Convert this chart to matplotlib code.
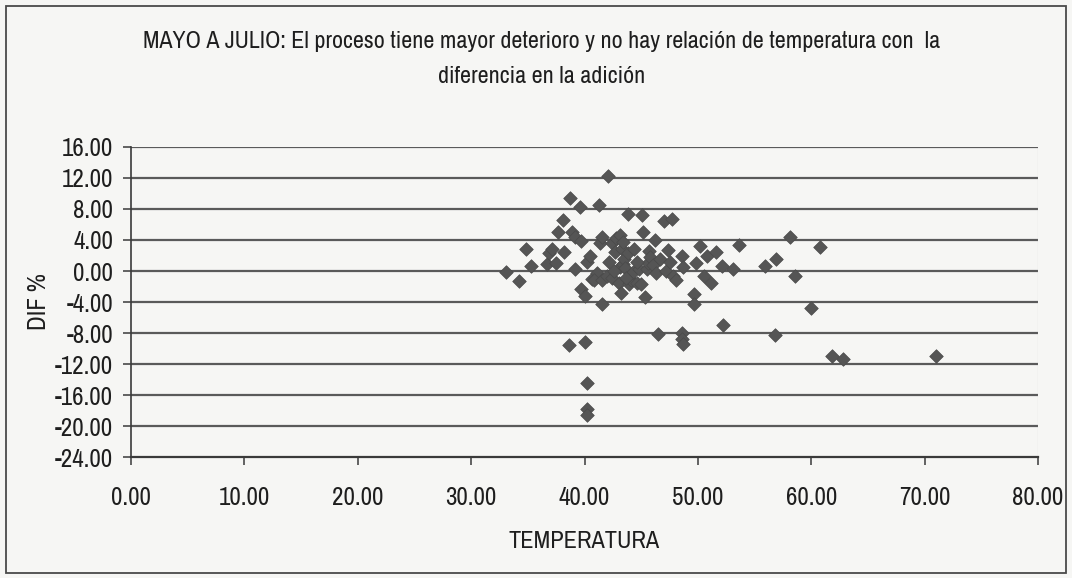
import matplotlib
matplotlib.use('Agg')
import matplotlib.pyplot as plt
from matplotlib.patches import Rectangle

# ── Datos (TEMPERATURA, DIF %) ───────────────────────────────────────────────
temperatura = [
    33.1, 34.2, 34.8, 35.3, 36.7, 36.9, 37.1, 37.5, 37.7, 38.1,
    38.2, 38.7, 38.9, 39.2, 39.2, 39.6, 39.7, 39.7, 40.0, 40.2,
    40.5, 40.7, 41.1, 41.3, 41.4, 41.5, 41.5, 40.8, 41.5, 42.0,
    42.1, 42.2, 42.4, 42.4, 42.7, 42.8, 43.0, 43.1, 43.1, 43.2,
    43.3, 43.4, 43.4, 43.5, 43.6, 43.8, 43.8, 43.9, 44.1, 44.3,
    44.6, 44.8, 45.0, 45.1, 45.2, 45.3, 45.5, 45.6, 45.7, 45.8,
    46.0, 46.2, 46.3, 46.5, 46.7, 47.0, 47.2, 47.4, 47.5, 47.7,
    47.8, 48.1, 48.6, 48.7, 48.6, 48.6, 48.7, 49.7, 49.7, 49.8,
    50.2, 50.5, 50.8, 51.2, 51.6, 52.1, 52.2, 53.1, 53.6, 55.9,
    56.9, 56.8, 58.1, 58.6, 60.0, 60.8, 61.8, 62.8, 71.0, 38.6,
    40.0, 40.2, 40.2, 40.2, 44.6, 44.4, 43.7, 42.6,
]
dif = [
    -0.1, -1.3, 2.9, 0.7, 0.9, 2.3, 2.9, 1.0, 5.0, 6.6,
    2.5, 9.4, 5.0, 4.4, 0.2, 8.3, 3.9, -2.3, -3.2, 1.2,
    1.9, -1.0, -0.3, 8.5, 3.6, 4.4, -4.3, -1.1, -1.1, -0.6,
    12.2, 1.2, 3.6, -0.9, 2.5, 4.3, -1.5, 0.5, 4.6, -2.8,
    2.9, 3.8, 0.9, 1.6, 0.4, 7.4, 2.3, -1.7, -1.1, -0.1,
    -1.5, 0.2, -1.7, 7.2, 5.0, -3.4, 0.3, 1.0, 2.6, 1.8,
    0.8, 4.0, -0.2, -8.1, 1.5, 6.5, 0.0, 2.7, 1.2, 6.7,
    -0.7, -1.1, 1.9, 0.5, -8.0, -8.8, -9.4, -3.0, -4.3, 1.0,
    3.2, -0.7, 1.9, -1.5, 2.5, 0.6, -7.0, 0.3, 3.4, 0.6,
    1.5, -8.3, 4.4, -0.7, -4.8, 3.1, -11.0, -11.4, -11.0, -9.5,
    -9.1, -14.5, -17.8, -18.6, 1.2, 2.8, -0.9, 0.0,
]

x_ticks = [0, 10, 20, 30, 40, 50, 60, 70, 80]
y_ticks = [16, 12, 8, 4, 0, -4, -8, -12, -16, -20, -24]

titulo = ('MAYO A JULIO: El proceso tiene mayor deterioro y no hay relación de temperatura con  la\n'
          'diferencia en la adición')

plt.rcParams['font.family'] = ['Archivo Narrow', 'Liberation Sans', 'DejaVu Sans']

fondo = '#f6f6f4'
tinta = '#1e1e1e'
gris = '#5a5a5a'

fig = plt.figure(figsize=(10.72, 5.78), dpi=100, facecolor=fondo)
ax = fig.add_axes([0.1222, 0.2093, 0.8461, 0.5364])
ax.set_facecolor(fondo)

# marco exterior del gráfico
fig.patches.append(Rectangle((0.006, 0.008), 0.988, 0.982, transform=fig.transFigure,
                             fill=False, edgecolor='#4a4a4a', lw=1.3))

ax.scatter(temperatura, dif, marker='D', s=48, color='#555555',
           edgecolors='#4a4a4a', linewidths=0.5, zorder=3)

ax.set_xlim(0, 80)
ax.set_ylim(-24, 16)
ax.set_xticks(x_ticks)
ax.set_xticklabels([f'{v:.2f}' for v in x_ticks])
ax.set_yticks(y_ticks)
ax.set_yticklabels([f'{v:.2f}' for v in y_ticks])

for v in y_ticks[:-1]:
    ax.axhline(v, color=gris, lw=1.6, zorder=1)

for s in ['top', 'right']:
    ax.spines[s].set_visible(False)
ax.spines['left'].set_color('#3a3a3a')
ax.spines['bottom'].set_color('#3a3a3a')
ax.spines['left'].set_linewidth(1.2)
ax.spines['bottom'].set_linewidth(1.6)
ax.axvline(80, color='#b0b0b0', lw=0.8, zorder=1)

ax.tick_params(axis='both', direction='out', length=6, width=1.1, colors='#3a3a3a',
               labelcolor=tinta, labelsize=18)
ax.tick_params(axis='x', pad=15)
ax.tick_params(axis='y', pad=7)

ax.set_xlabel('TEMPERATURA', fontsize=17.5, color=tinta, labelpad=16)
ax.set_ylabel('DIF %', fontsize=18, color=tinta)
ax.yaxis.set_label_coords(-0.089, 0.5)

fig.text(0.505, 0.898, titulo, ha='center', va='center', fontsize=17.3,
         color=tinta, linespacing=1.85)

fig.savefig('out.png', dpi=100, facecolor=fondo)
